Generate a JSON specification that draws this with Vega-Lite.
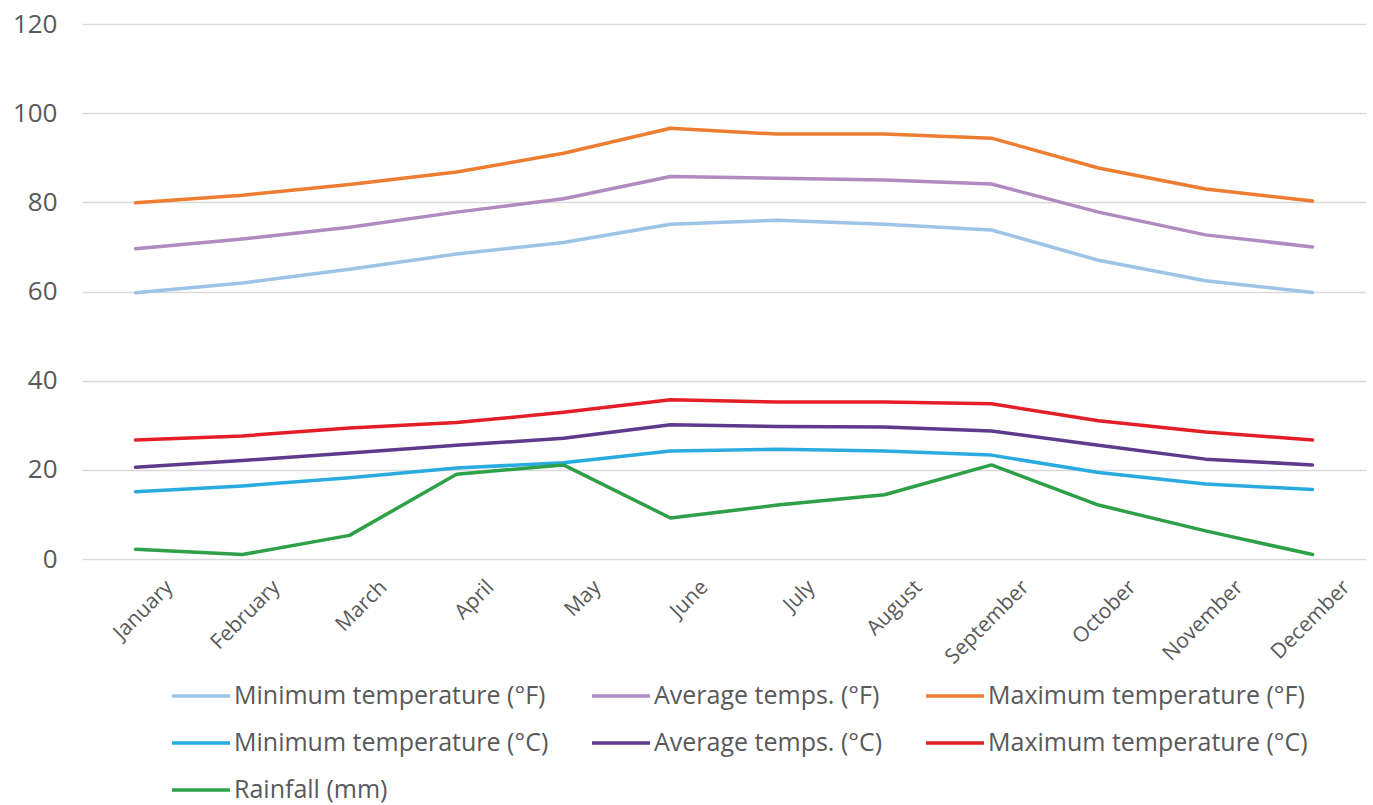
{
  "$schema": "https://vega.github.io/schema/vega-lite/v6.json",
  "width": 1284,
  "height": 535,
  "autosize": {"type": "none"},
  "padding": {"left": 82, "top": 24, "right": 7, "bottom": 246},
  "config": {"view": {"stroke": null}, "font": "Open Sans"},
  "datasets": {
    "wide": [
      {"month": "January", "minF": 59.7, "avgF": 69.6, "maxF": 79.9, "minC": 15.1, "avgC": 20.6, "maxC": 26.7, "rain": 2.2},
      {"month": "February", "minF": 61.9, "avgF": 71.8, "maxF": 81.6, "minC": 16.4, "avgC": 22.1, "maxC": 27.6, "rain": 1.0},
      {"month": "March", "minF": 65.0, "avgF": 74.4, "maxF": 84.0, "minC": 18.2, "avgC": 23.8, "maxC": 29.4, "rain": 5.3},
      {"month": "April", "minF": 68.4, "avgF": 77.8, "maxF": 86.8, "minC": 20.4, "avgC": 25.5, "maxC": 30.6, "rain": 19.0},
      {"month": "May", "minF": 71.0, "avgF": 80.8, "maxF": 91.0, "minC": 21.6, "avgC": 27.1, "maxC": 32.9, "rain": 21.1},
      {"month": "June", "minF": 75.1, "avgF": 85.8, "maxF": 96.6, "minC": 24.2, "avgC": 30.1, "maxC": 35.7, "rain": 9.2},
      {"month": "July", "minF": 76.0, "avgF": 85.4, "maxF": 95.3, "minC": 24.6, "avgC": 29.7, "maxC": 35.2, "rain": 12.1},
      {"month": "August", "minF": 75.1, "avgF": 85.0, "maxF": 95.3, "minC": 24.2, "avgC": 29.6, "maxC": 35.2, "rain": 14.4},
      {"month": "September", "minF": 73.8, "avgF": 84.1, "maxF": 94.4, "minC": 23.3, "avgC": 28.7, "maxC": 34.8, "rain": 21.1},
      {"month": "October", "minF": 67.0, "avgF": 77.8, "maxF": 87.7, "minC": 19.4, "avgC": 25.5, "maxC": 31.0, "rain": 12.1},
      {"month": "November", "minF": 62.4, "avgF": 72.7, "maxF": 83.0, "minC": 16.8, "avgC": 22.4, "maxC": 28.5, "rain": 6.3},
      {"month": "December", "minF": 59.8, "avgF": 70.0, "maxF": 80.3, "minC": 15.6, "avgC": 21.1, "maxC": 26.7, "rain": 1.0}
    ]
  },
  "data": {"name": "wide"},
  "transform": [
    {"fold": ["minF", "avgF", "maxF", "minC", "avgC", "maxC", "rain"], "as": ["key", "value"]},
    {"lookup": "key", "from": {"data": {"values": [
      {"key": "minF", "series": "Minimum temperature (°F)"},
      {"key": "avgF", "series": "Average temps. (°F)"},
      {"key": "maxF", "series": "Maximum temperature (°F)"},
      {"key": "minC", "series": "Minimum temperature (°C)"},
      {"key": "avgC", "series": "Average temps. (°C)"},
      {"key": "maxC", "series": "Maximum temperature (°C)"},
      {"key": "rain", "series": "Rainfall (mm)"}
    ]}, "key": "key", "fields": ["series"]}}
  ],
  "mark": {"type": "line", "strokeWidth": 3.5, "strokeCap": "round", "strokeJoin": "round"},
  "encoding": {
    "x": {
      "field": "month", "type": "ordinal", "sort": null,
      "scale": {"type": "point", "padding": 0.5},
      "axis": {"title": null, "domain": false, "ticks": false, "grid": false, "labelAngle": -45, "labelFontSize": 21, "labelColor": "#595959", "labelPadding": 17, "labelOffset": 26, "labelFont": "Open Sans"}
    },
    "y": {
      "field": "value", "type": "quantitative",
      "scale": {"domain": [0, 120], "nice": false},
      "axis": {"title": null, "domain": false, "ticks": false, "values": [0, 20, 40, 60, 80, 100, 120], "labelFontSize": 26, "labelColor": "#595959", "labelPadding": 25, "gridColor": "#D9D9D9", "gridWidth": 1.5, "labelFont": "Open Sans"}
    },
    "color": {
      "field": "series", "type": "nominal",
      "scale": {
        "domain": ["Minimum temperature (°F)", "Average temps. (°F)", "Maximum temperature (°F)", "Minimum temperature (°C)", "Average temps. (°C)", "Maximum temperature (°C)", "Rainfall (mm)"],
        "range": ["#9DC3E6", "#B08AC0", "#ED7D31", "#29ABE2", "#5E3A8C", "#E41E26", "#2EA048"]
      },
      "legend": {
        "title": null, "orient": "none", "legendX": 88, "legendY": 641, "direction": "horizontal", "columns": 3,
        "symbolType": "stroke", "symbolSize": 3364, "symbolStrokeWidth": 3.5,
        "labelFontSize": 25, "labelColor": "#595959", "labelOffset": 2, "labelLimit": 400,
        "columnPadding": 36, "rowPadding": 3, "labelFont": "Open Sans"
      }
    }
  }
}
